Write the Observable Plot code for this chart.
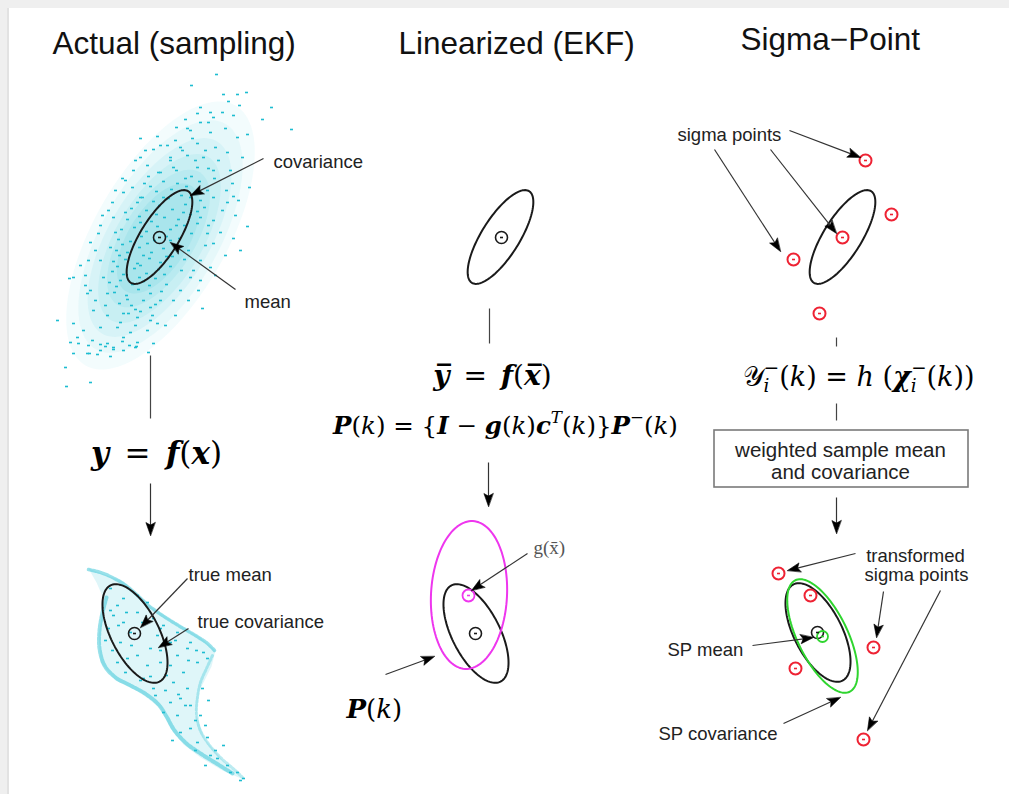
<!DOCTYPE html>
<html><head><meta charset="utf-8">
<script src="https://cdn.jsdelivr.net/npm/d3@7"></script>
<script src="https://cdn.jsdelivr.net/npm/@observablehq/plot@0.6"></script>
<style>
html,body{margin:0;padding:0;background:#efefef;overflow:hidden;}
#chart{position:absolute;left:7px;top:8px;border-left:2px solid #e2e2e2;background:#fff;}
#chart svg{display:block;}
</style></head><body><div id="chart"></div>
<script>
// ---------------- data ----------------
const titles = ["Actual (sampling)", "Linearized (EKF)", "Sigma\u2212Point"];
const titleX = [52, 398, 740];
const titleY = [53, 53, 49];

const labels = ["covariance","mean","true mean","true covariance","sigma points","SP mean","SP covariance"];
const labelX = [273,244,188,197,677,667,658];
const labelY = [167,307,580,627,140,655,739];
const labels2 = ["transformed","sigma points"];
const labels2X = [915,916];
const labels2Y = [561,580];

const boxLines = ["weighted sample mean","and covariance"];
const boxLineX = [840,840];
const boxLineY = [456,478];
const boxX1 = [714], boxX2 = [968], boxY1 = [430], boxY2 = [487];

const gLabel = ["g(x\u0304)"]; const gLabelX = [533]; const gLabelY = [553];

// formulas
const formulaText = ["y = f(x)", "y\u0305 = f(x\u0305)", "P(k) = {I \u2212 g(k)c\u1d40(k)}P\u207b(k)", "P(k)", "\ud835\udcb4\u1d62\u207b(k) = h (\u03c7\u1d62\u207b(k))"];
const formulaX = [156, 492, 505, 346, 742];
const formulaY = [463, 384, 433, 717, 385];
const formulaSize = [31, 28, 24.5, 26, 27];
const formulaSegs = [
  [["y","bi"],["\u2002=\u2002","r"],["f","bi"],["(","r"],["x","bi"],[")","r"]],
  [["y\u0305","bi"],["\u2002=\u2002","r"],["f","bi"],["(","r"],["x\u0305","bi"],[")","r"]],
  [["P","bi"],["(","r"],["k","i"],[")","r"],[" = {","r"],["I","bi"],[" \u2212 ","r"],["g","bi"],["(","r"],["k","i"],[")","r"],["c","bi"],["T","supi"],["(","r"],["k","i"],[")}","r"],["P","bi"],["\u2212","sup"],["(","r"],["k","i"],[")","r"]],
  [["P","bi"],["(","r"],["k","i"],[")","r"]],
  [["\ud835\udcb4","r"],["i","subi"],["\u2212","supst"],["(","r"],["k","i"],[")","r"],[" = ","r"],["h","i"],[" (","r"],["\u03c7","bi"],["i","subi"],["\u2212","supst"],["(","r"],["k","i"],["))","r"]]
];

// ellipses (covariance contours)
const ellCx    = [159, 500, 842, 134.5, 475.5, 468.5, 817.5, 822];
const ellCy    = [236.5, 236.5, 236.5, 633, 633, 594.5, 632, 635.5];
const ellA     = [54, 54, 54, 54, 54, 74, 54, 62];
const ellB     = [19, 19, 19, 24, 24, 38, 24, 25];
const ellAngle = [-58, -58, -58, 63, 63, -87, 63, 64];
const ellKind  = ["k","k","k","k","k","m","k","g"];

// mean / sigma point markers
const markerX = [159,501,865,891,842,793,819,134,475,468,817,822,778,810,873,795,863];
const markerY = [237,237,160,214,237,259,313,633,633,595,632,636,573,595,647,668,739];
const markerKind = ["k","k","r","r","r","r","r","k","k","m","k","g","r","r","r","r","r"];

// arrows: tail -> tip
const arrowX1 = [263,235,150,187,188, 488,527,385, 789,770,714,836,855,883,940,752,783];
const arrowY1 = [158,289,483,578,628, 462,553,674, 130,149,149,497,553,591,590,645,723];
const arrowX2 = [190,170,150,140,158, 488,471,434, 860,836,780,836,787,876,867,813,840];
const arrowY2 = [195,242,535,627,647, 506,590,656, 157,233,251,533,570,637,730,637,697];

// plain connector lines
const lineX1 = [150,489,836,836];
const lineY1 = [355,308,337,403];
const lineX2 = [150,489,836,836];
const lineY2 = [418,343,346,420];

// sample cloud before transform
const topCloud = [216,74,191,85,223,94,237,94,246,92,228,101,239,105,271,107,200,107,222,112,197,113,233,115,262,119,185,119,208,122,213,117,291,129,176,127,187,128,225,128,247,134,140,138,157,136,192,138,210,132,237,137,167,145,180,147,197,143,215,147,227,152,242,157,140,157,153,149,170,157,187,155,203,157,122,178,133,170,147,165,160,172,173,167,197,167,213,170,232,183,249,187,112,202,123,192,132,187,140,197,200,200,213,197,227,202,233,196,102,215,113,217,200,217,213,220,207,233,213,243,247,226,233,238,90,242,98,233,110,247,88,260,100,260,200,260,210,267,193,270,73,277,69,278,85,275,103,277,90,290,87,293,107,293,190,277,200,280,180,290,173,300,202,308,150,307,160,300,93,310,107,315,123,313,137,317,57,320,73,323,83,330,100,327,117,327,130,332,147,330,157,323,77,337,92,340,107,343,123,337,137,342,87,353,100,350,113,347,65,367,90,382,73,353,123,350,135,347,70,342,78,343,88,345,100,344,105,346,113,349,122,341,129,345,136,346,148,352,153,343,89,353,97,354,110,356,66,386,
205,150,218,160,230,170,214,178,226,190,238,200,222,210,235,215,208,225,220,232,240,250,225,255,205,245,215,275,198,290,188,300,175,315,165,325,150,320,135,325,120,322,105,305,95,300,85,285,80,265,95,250,100,225,108,210,115,190,125,180,135,160,145,150,160,145,175,140,190,130,200,122,210,112,170,160,182,150,195,160,208,168,
148,176,163,181,176,170,191,176,156,191,171,189,186,186,199,181,142,197,153,201,168,198,181,195,195,193,207,190,131,208,146,210,159,205,172,209,185,204,197,211,127,219,139,216,151,221,164,217,178,219,190,214,204,207,121,229,134,227,146,231,157,226,170,229,184,225,197,223,118,239,130,241,141,236,154,240,166,236,179,238,191,233,116,250,127,252,139,247,151,252,163,248,176,246,188,250,113,261,125,259,137,263,149,258,160,262,172,256,184,259,112,271,123,274,134,268,146,273,158,269,170,266,181,270,109,282,120,280,132,284,143,281,155,278,166,284,114,292,126,295,138,289,150,293,161,291,119,303,131,305,143,300,155,304,128,313,140,311,152,315,
144,183,158,172,185,178,150,186,177,183,137,202,163,197,190,197,125,212,156,214,183,212,115,232,140,222,176,225,122,244,147,243,170,240,119,255,143,255,166,256,117,266,140,265,164,274,116,286,139,277,127,299,149,285,135,309];
const topCloudCx = [160,160,159,159,158,158], topCloudCy = [235,236,237,238,238,238];
const topCloudA = [150,130,112,95,78,62], topCloudB = [66,58,50,43,36,30], topCloudAngle = [-60,-60,-59,-59,-58,-58];
const topCloudDensity = [0.05,0.06,0.07,0.08,0.09,0.10];

// sample cloud after transform
const bottomCloud = [113,615,123,622,137,612,130,632,120,642,150,648,157,635,170,642,177,655,187,648,197,662,183,672,170,665,160,662,147,665,137,655,127,658,117,662,173,682,187,688,180,698,190,705,170,702,163,712,177,715,190,728,197,742,180,732,207,737,210,755,217,758,227,765,223,745,237,772,243,778,200,715,202,688,153,688,143,678,123,598,137,595,147,602,117,605,110,588,153,618,163,625,177,632,190,642,203,652,207,658,108,628,112,650,125,672,140,680,105,640,118,625,131,645,165,690,185,705,195,720,215,750,230,772,110,610,126,612,142,622,160,628,175,640,196,650,188,660,160,650,150,676,166,675,178,694,155,695,172,740,195,750,205,765,240,780,208,700,205,725];
const bottomOutline = [88,568,123,581,150,606,178,624,200,637,215,650,211,666,199,690,196,715,204,738,222,760,243,779,222,770,200,757,183,744,170,728,160,708,140,692,115,680,100,662,98,635,104,600,96,582];
const bandTop = [88,569,100,572,112,577,124,584,136,594,148,605,162,615,178,625,195,635,207,643,214,650];
const bandLeft = [106,597,102,612,99,630,99,648,104,665,115,677,130,685,146,694,158,704,166,716,174,730,186,743,200,753,216,763,232,773];
const bandRight = [212,655,206,668,200,682,197,697,196,712,199,728,207,742,220,757,236,771,243,778];

// ---------------- helpers ----------------
const INK = "#1a1a1a", CYAN = "#1dbdd1";
const kindColor = {k: INK, r: "#ee2233", m: "#ee36ee", g: "#2fd52f"};
const pairs = a => d3.range(0, a.length, 2).map(i => ({x: a[i], y: a[i+1]}));
function ellipsePts(cx, cy, a, b, deg, id, n = 120) {
  const t = deg * Math.PI / 180, c = Math.cos(t), s = Math.sin(t);
  return d3.range(n).map(k => { const u = 2*Math.PI*k/n, ex = a*Math.cos(u), ey = b*Math.sin(u);
    return {x: cx + ex*c - ey*s, y: cy + ex*s + ey*c, id}; });
}
const dashSym = {draw(ctx){ ctx.rect(-1.5,-0.8,3,1.6); }};

const ellipses = ellCx.map((_, i) => ellipsePts(ellCx[i], ellCy[i], ellA[i], ellB[i], ellAngle[i], i));
const layers = topCloudCx.map((_, i) => ellipsePts(topCloudCx[i], topCloudCy[i], topCloudA[i], topCloudB[i], topCloudAngle[i], i));

const arrows = arrowX1.map((_, i) => ({x1: arrowX1[i], y1: arrowY1[i], x2: arrowX2[i], y2: arrowY2[i]}));
const heads = arrows.flatMap((a, i) => {
  const dx = a.x2 - a.x1, dy = a.y2 - a.y1, L = Math.hypot(dx, dy), ux = dx/L, uy = dy/L;
  const HL = 13, HW = 4.6;
  const bx = a.x2 - HL*ux, by = a.y2 - HL*uy;
  return [{x: a.x2, y: a.y2, id: i}, {x: bx - HW*uy, y: by + HW*ux, id: i},
          {x: a.x2 - 0.8*HL*ux, y: a.y2 - 0.8*HL*uy, id: i}, {x: bx + HW*uy, y: by - HW*ux, id: i}];
});
const shafts = arrows.map(a => {
  const dx = a.x2 - a.x1, dy = a.y2 - a.y1, L = Math.hypot(dx, dy);
  return {x1: a.x1, y1: a.y1, x2: a.x2 - 8*dx/L, y2: a.y2 - 8*dy/L};
});
const lines = lineX1.map((_, i) => ({x1: lineX1[i], y1: lineY1[i], x2: lineX2[i], y2: lineY2[i]}));
const markers = markerX.map((_, i) => ({x: markerX[i], y: markerY[i], k: markerKind[i]}));

const marks = [];
// clouds
layers.forEach((pts, i) => marks.push(Plot.line(pts, {x: "x", y: "y", curve: "linear-closed", fill: CYAN, fillOpacity: topCloudDensity[i], stroke: "none"})));
marks.push(Plot.dot(pairs(topCloud), {x: "x", y: "y", symbol: dashSym, r: 1, fill: CYAN, stroke: "none"}));
marks.push(Plot.line(pairs(bottomOutline), {x: "x", y: "y", curve: "linear-closed", fill: CYAN, fillOpacity: 0.14, stroke: "none"}));
marks.push(Plot.line(pairs(bandTop), {x: "x", y: "y", stroke: CYAN, strokeOpacity: 0.45, strokeWidth: 3.5, curve: "catmull-rom", strokeDasharray: "3 1.5"}));
marks.push(Plot.line(pairs(bandLeft), {x: "x", y: "y", stroke: CYAN, strokeOpacity: 0.45, strokeWidth: 4, curve: "catmull-rom", strokeDasharray: "3 1.5"}));
marks.push(Plot.line(pairs(bandRight), {x: "x", y: "y", stroke: CYAN, strokeOpacity: 0.3, strokeWidth: 3, curve: "catmull-rom", strokeDasharray: "2 2"}));
marks.push(Plot.dot(pairs(bottomCloud), {x: "x", y: "y", symbol: dashSym, r: 1, fill: CYAN, stroke: "none"}));
// ellipses
ellipses.forEach((pts, i) => marks.push(Plot.line(pts, {x: "x", y: "y", curve: "linear-closed", stroke: kindColor[ellKind[i]], strokeWidth: 2})));
// markers
marks.push(Plot.dot(markers.filter(d => d.k === "r"), {x: "x", y: "y", r: 6, stroke: kindColor.r, strokeWidth: 2, fill: "none"}));
marks.push(Plot.dot(markers.filter(d => d.k === "k"), {x: "x", y: "y", r: 6, stroke: INK, strokeWidth: 1.6, fill: "none"}));
marks.push(Plot.dot(markers.filter(d => d.k === "m"), {x: "x", y: "y", r: 6, stroke: kindColor.m, strokeWidth: 1.8, fill: "none"}));
marks.push(Plot.dot(markers.filter(d => d.k === "g"), {x: "x", y: "y", r: 5.5, stroke: kindColor.g, strokeWidth: 1.8, fill: "none"}));
marks.push(Plot.dot(markers, {x: "x", y: "y", symbol: dashSym, r: 1, fill: d => kindColor[d.k], stroke: "none"}));
// connectors and arrows
marks.push(Plot.link(lines, {x1: "x1", y1: "y1", x2: "x2", y2: "y2", stroke: "#444", strokeWidth: 1.2}));
marks.push(Plot.link(shafts, {x1: "x1", y1: "y1", x2: "x2", y2: "y2", stroke: "#333", strokeWidth: 1.2}));
marks.push(Plot.line(heads, {x: "x", y: "y", z: "id", curve: "linear-closed", fill: "#000", stroke: "#000", strokeWidth: 0.6}));
// box
marks.push(Plot.rect([0], {x1: i => boxX1[i], x2: i => boxX2[i], y1: i => boxY1[i], y2: i => boxY2[i], fill: "none", stroke: "#7a7a7a", strokeWidth: 1.6}));
// texts
const sans = "'Liberation Sans', Arial, sans-serif";
marks.push(Plot.text(titles, {x: (d, i) => titleX[i], y: (d, i) => titleY[i], text: d => d, textAnchor: "start", lineAnchor: "bottom", fontSize: 31.5, fontFamily: sans, fill: "#111"}));
marks.push(Plot.text(labels, {x: (d, i) => labelX[i], y: (d, i) => labelY[i], text: d => d, textAnchor: "start", lineAnchor: "bottom", fontSize: 18.5, fontFamily: sans, fill: "#222"}));
marks.push(Plot.text(labels2, {x: (d, i) => labels2X[i], y: (d, i) => labels2Y[i], text: d => d, textAnchor: "middle", lineAnchor: "bottom", fontSize: 18.5, fontFamily: sans, fill: "#222"}));
marks.push(Plot.text(boxLines, {x: (d, i) => boxLineX[i], y: (d, i) => boxLineY[i], text: d => d, textAnchor: "middle", lineAnchor: "bottom", fontSize: 20.5, fontFamily: sans, fill: "#222"}));
marks.push(Plot.text(gLabel, {x: (d, i) => gLabelX[i], y: (d, i) => gLabelY[i], text: d => d, textAnchor: "start", lineAnchor: "bottom", fontSize: 19, fontFamily: "'Liberation Serif', serif", fill: "#555"}));
const midF = [0, 1, 2], startF = [3, 4];
marks.push(Plot.text(midF, {x: i => formulaX[i], y: i => formulaY[i], text: i => formulaText[i], textAnchor: "middle", lineAnchor: "bottom", fontFamily: "'DejaVu Serif', serif", fill: "#000"}));
marks.push(Plot.text(startF, {x: i => formulaX[i], y: i => formulaY[i], text: i => formulaText[i], textAnchor: "start", lineAnchor: "bottom", fontFamily: "'DejaVu Serif', serif", fill: "#000"}));

const svg = Plot.plot({
  width: 1000, height: 786, margin: 0,
  x: {domain: [9, 1009], axis: null},
  y: {domain: [8, 794], reverse: true, axis: null},
  style: {background: "white", overflow: "visible"},
  marks
});

function renderFormula(el, fi) {
  const size = formulaSize[fi];
  el.textContent = "";
  el.style.fontSize = size + "px";
  let shift = 0;
  for (const [t, st] of formulaSegs[fi]) {
    const ts = document.createElementNS("http://www.w3.org/2000/svg", "tspan");
    let fs = size, target = 0, dx = 0, italic = false, bold = false;
    if (st === "i") italic = true;
    if (st === "bi") { italic = true; bold = true; }
    if (st === "supi" || st === "sup" || st === "supst") { fs = size * 0.68; target = -0.42 * size; italic = st === "supi"; }
    if (st === "subi") { fs = size * 0.68; target = 0.24 * size; italic = true; }
    if (st === "supst") dx = -0.3 * size * 0.68;
    ts.style.fontSize = fs + "px";
    ts.style.fontStyle = italic ? "italic" : "normal";
    ts.style.fontWeight = bold ? "bold" : "normal";
    ts.style.fontFamily = "'DejaVu Serif', serif";
    if (target - shift) ts.setAttribute("dy", (target - shift) + "px");
    if (dx) ts.setAttribute("dx", dx + "px");
    shift = target;
    ts.textContent = t;
    el.appendChild(ts);
  }
}
svg.querySelectorAll("text").forEach(el => {
  const fi = formulaText.indexOf(el.textContent);
  if (fi >= 0 && !el.dataset.done) { el.dataset.done = "1"; renderFormula(el, fi); }
});

document.getElementById("chart").appendChild(svg);
</script></body></html>
